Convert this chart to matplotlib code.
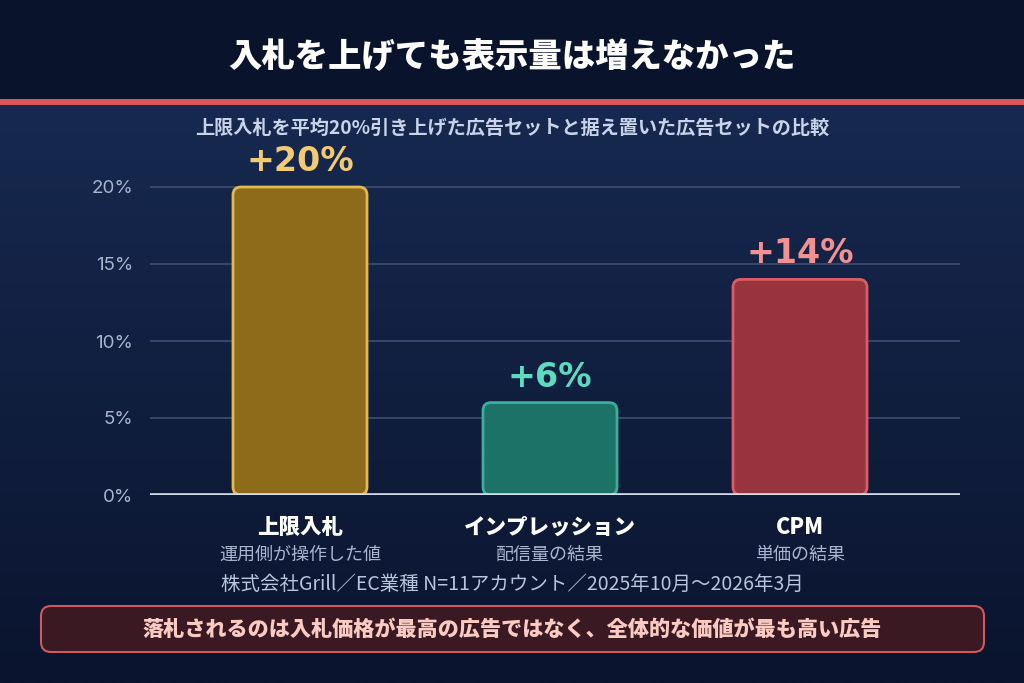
import matplotlib
matplotlib.use("Agg")
import matplotlib.pyplot as plt
import numpy as np
from matplotlib.patches import FancyBboxPatch, Rectangle

plt.rcParams['font.family'] = ['Noto Sans CJK JP', 'DejaVu Sans']

# ---- data ----
categories = ["上限入札", "インプレッション", "CPM"]
sublabels = ["運用側が操作した値", "配信量の結果", "単価の結果"]
values = [20, 6, 14]
value_labels = ["+20%", "+6%", "+14%"]
yticks = [0, 5, 10, 15, 20]
ytick_labels = ["0%", "5%", "10%", "15%", "20%"]

title = "入札を上げても表示量は増えなかった"
subtitle = "上限入札を平均20%引き上げた広告セットと据え置いた広告セットの比較"
source = "株式会社Grill／EC業種 N=11アカウント／2025年10月～2026年3月"
note = "落札されるのは入札価格が最高の広告ではなく、全体的な価値が最も高い広告"

fills = ["#8d6b1b", "#1d7268", "#98343d"]
edges = ["#e3b94d", "#3bae9c", "#dc5c64"]
label_colors = ["#f1ca72", "#5fd9c0", "#f39090"]

W, H = 1024, 683
fig = plt.figure(figsize=(W / 100, H / 100), dpi=100)

# background
bg = fig.add_axes([0, 0, 1, 1])
bg.set_xlim(0, W)
bg.set_ylim(H, 0)
bg.axis('off')
top = np.array([0x17, 0x29, 0x50]) / 255
bot = np.array([0x0a, 0x14, 0x2e]) / 255
t = np.linspace(0, 1, 256)[:, None]
grad = (top[None, :] * (1 - t) + bot[None, :] * t)[:, None, :]
bg.imshow(grad, extent=[0, W, H, 104], aspect='auto', zorder=0)
bg.add_patch(Rectangle((0, 0), W, 100, facecolor="#0a132c", edgecolor='none', zorder=1))
bg.add_patch(Rectangle((0, 99), W, 6, facecolor="#d9565b", edgecolor='none', zorder=2))

bg.text(512, 57, title, ha='center', va='center', color='white', fontsize=24,
        fontweight='black', zorder=3)
bg.text(512, 128, subtitle, ha='center', va='center', color='#c9d4ea', fontsize=13.8,
        fontweight='bold', zorder=3)

# chart axes
ax_left, ax_right = 150, 960
y0_px, y20_px = 495, 187
ax_top_px = 150
ymax = 20 * (y0_px - ax_top_px) / (y0_px - y20_px)
ax = fig.add_axes([ax_left / W, (H - y0_px) / H, (ax_right - ax_left) / W,
                   (y0_px - ax_top_px) / H])
ax.patch.set_alpha(0)
xs = np.arange(len(categories))
ax.set_xlim(-0.6, 2.64)
ax.set_ylim(0, ymax)
for s in ax.spines.values():
    s.set_visible(False)
ax.set_yticks(yticks)
ax.set_yticklabels(ytick_labels, color='#a9b5cd', fontsize=13.5, family=['Inter', 'DejaVu Sans'])
ax.tick_params(axis='y', length=0, pad=12)
ax.set_xticks([])
for v in yticks[1:]:
    ax.axhline(v, color='#3b4b70', lw=1.3, zorder=1)
ax.axhline(0, color='#d3dbea', lw=2.6, zorder=4)

bar_w = 0.536
bars = ax.bar(xs, values, width=bar_w, color='none', edgecolor='none')
x_per_px = (2.64 + 0.6) / (ax_right - ax_left)
y_per_px = ymax / (y0_px - ax_top_px)
r_px = 8
for i, b in enumerate(bars):
    x, y = b.get_x(), b.get_y()
    w, h = b.get_width(), b.get_height()
    p = FancyBboxPatch((x, y), w, h,
                       boxstyle=f"round,pad=0,rounding_size={r_px * x_per_px}",
                       mutation_aspect=y_per_px / x_per_px,
                       facecolor=fills[i], edgecolor=edges[i], lw=2, zorder=3)
    ax.add_patch(p)
    ax.annotate(value_labels[i], (xs[i], values[i]), xytext=(0, 6.5),
                textcoords='offset points', ha='center', va='bottom',
                color=label_colors[i], fontsize=24, fontweight='bold',
                family=['DejaVu Sans'], annotation_clip=False, zorder=5)

# category labels
for i in range(len(categories)):
    xp = ax_left + (xs[i] + 0.6) / x_per_px
    bg.text(xp, 527, categories[i], ha='center', va='center', color='white',
            fontsize=15.5, fontweight='black', zorder=3)
    bg.text(xp, 555, sublabels[i], ha='center', va='center', color='#a9b5cd',
            fontsize=13, zorder=3)

bg.text(512, 584, source, ha='center', va='center', color='#b9c5dc', fontsize=14, zorder=3)

bg.add_patch(FancyBboxPatch((41, 606), 943, 46,
                            boxstyle="round,pad=0,rounding_size=10",
                            facecolor='#3b1922', edgecolor='#d0585e', lw=1.5, zorder=3))
bg.text(512, 630, note, ha='center', va='center', color='#f9cbc2', fontsize=15.2,
        fontweight='black', zorder=4)

fig.savefig("out.png", dpi=100)
